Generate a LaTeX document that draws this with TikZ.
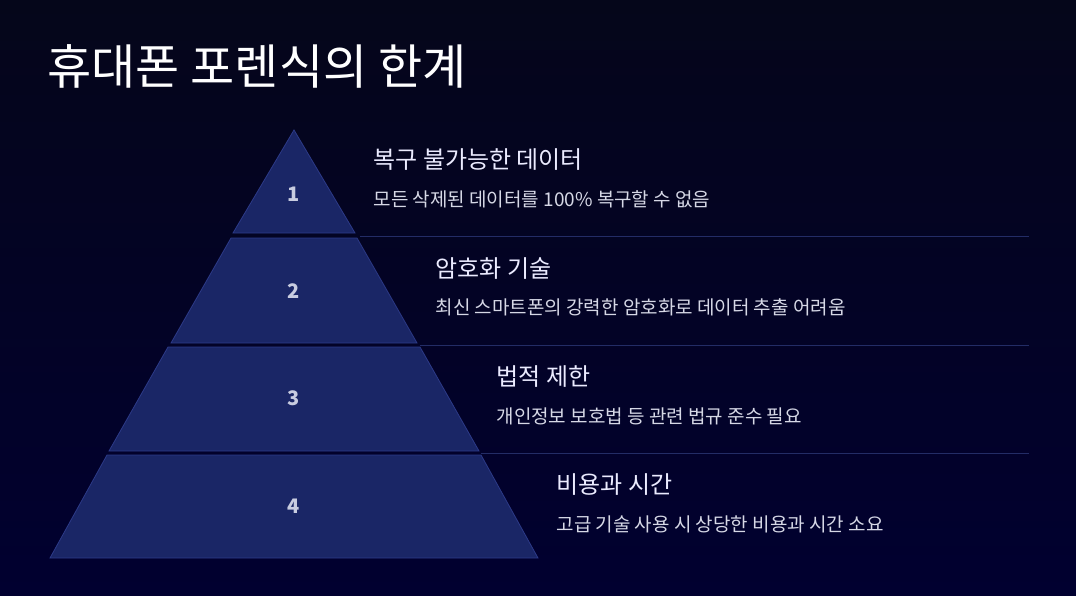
\documentclass[tikz,border=0pt]{standalone}
\usepackage{fontspec}
\setmainfont{Noto Sans CJK KR}
\begin{document}
\begin{tikzpicture}[x=1pt,y=-1pt,
  tier/.style={fill=tierfill,draw=tieredge,line width=0.8pt},
  num/.style={font=\fontsize{20}{24}\selectfont\bfseries,text=numcol},
  head/.style={anchor=west,font=\fontsize{24}{28}\selectfont,text=white!92!blue},
  desc/.style={anchor=west,font=\fontsize{19}{23}\selectfont,text=desccol},
  divider/.style={draw=divcol,line width=0.9pt}]
\definecolor{tierfill}{HTML}{1A2666}
\definecolor{tieredge}{HTML}{2C3A88}
\definecolor{divcol}{HTML}{232C66}
\definecolor{numcol}{HTML}{C8CCE0}
\definecolor{desccol}{HTML}{D6D8E6}
\definecolor{bgtop}{HTML}{05061A}
\definecolor{bgbot}{HTML}{010030}
\shade[top color=bgtop,bottom color=bgbot] (0,0) rectangle (1076,595);
\useasboundingbox (0,0) rectangle (1076,595);
\node[anchor=west,font=\fontsize{48}{54}\selectfont,text=white] (title) at (44,66) {휴대폰 포렌식의 한계};
\draw[tier] (294,130) -- (355,233) -- (233,233) -- cycle;
\draw[tier] (231,238) -- (357,238) -- (417,343) -- (171,343) -- cycle;
\draw[tier] (168,347) -- (420,347) -- (479,451) -- (109,451) -- cycle;
\draw[tier] (107,455) -- (481,455) -- (538,558) -- (50,558) -- cycle;
\node[num] (n1) at (294,194) {1};
\node[num] (n2) at (294,291) {2};
\node[num] (n3) at (294,398) {3};
\node[num] (n4) at (294,506) {4};
\coordinate (d1a) at (360,236); \coordinate (d1b) at (1029,236);
\coordinate (d2a) at (420,345); \coordinate (d2b) at (1029,345);
\coordinate (d3a) at (481,453); \coordinate (d3b) at (1029,453);
\draw[divider] (d1a) -- (d1b);
\draw[divider] (d2a) -- (d2b);
\draw[divider] (d3a) -- (d3b);
\node[head] (h1) at (370,160) {복구 불가능한 데이터};
\node[desc] (t1) at (370,199) {모든 삭제된 데이터를 100\% 복구할 수 없음};
\node[head] (h2) at (432,269) {암호화 기술};
\node[desc] (t2) at (432,307) {최신 스마트폰의 강력한 암호화로 데이터 추출 어려움};
\node[head] (h3) at (493,377) {법적 제한};
\node[desc] (t3) at (493,416) {개인정보 보호법 등 관련 법규 준수 필요};
\node[head] (h4) at (553,485) {비용과 시간};
\node[desc] (t4) at (553,524) {고급 기술 사용 시 상당한 비용과 시간 소요};
\end{tikzpicture}
\end{document}
